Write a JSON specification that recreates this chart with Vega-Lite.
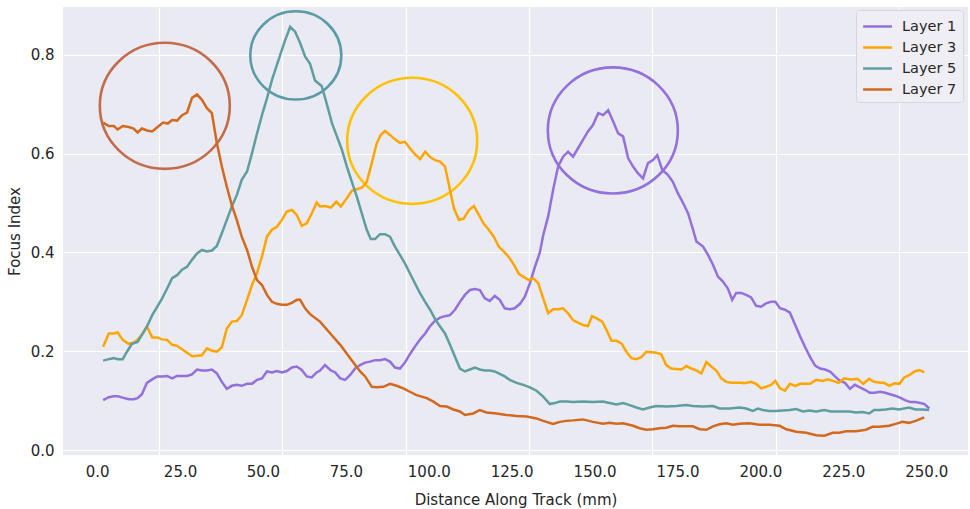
{
  "$schema": "https://vega.github.io/schema/vega-lite/v6.json",
  "width": 905,
  "height": 448,
  "autosize": {"type": "none"},
  "padding": {"left": 63, "top": 7, "right": 2, "bottom": 54},
  "background": "white",
  "config": {
    "view": {"fill": "#EAEAF2", "stroke": null},
    "font": "DejaVu Sans",
    "axis": {"domain": false, "ticks": false, "labelFont": "DejaVu Sans", "labelFontSize": 15, "labelColor": "#262626", "titleFont": "DejaVu Sans", "titleFontSize": 15, "titleFontWeight": "normal", "titleColor": "#262626", "gridColor": "#FFFFFF", "gridWidth": 1.2, "gridOpacity": 1}
  },
  "datasets": {
    "marks": [
      {"layer": "Layer 7", "x": 20.4, "y": 0.697},
      {"layer": "Layer 5", "x": 59.9, "y": 0.799},
      {"layer": "Layer 3", "x": 95.0, "y": 0.626},
      {"layer": "Layer 1", "x": 155.5, "y": 0.647}
    ],
    "series": [
      {"layer":"Layer 1","x":1.8,"y":0.101},{"layer":"Layer 1","x":3.5,"y":0.107},{"layer":"Layer 1","x":5.0,"y":0.109},{"layer":"Layer 1","x":6.2,"y":0.109},{"layer":"Layer 1","x":7.7,"y":0.106},{"layer":"Layer 1","x":9.5,"y":0.103},{"layer":"Layer 1","x":11.0,"y":0.103},{"layer":"Layer 1","x":12.2,"y":0.105},{"layer":"Layer 1","x":13.5,"y":0.113},{"layer":"Layer 1","x":15.0,"y":0.136},{"layer":"Layer 1","x":16.6,"y":0.143},{"layer":"Layer 1","x":18.1,"y":0.149},{"layer":"Layer 1","x":19.6,"y":0.149},{"layer":"Layer 1","x":21.1,"y":0.150},{"layer":"Layer 1","x":22.6,"y":0.145},{"layer":"Layer 1","x":24.1,"y":0.150},{"layer":"Layer 1","x":25.6,"y":0.150},{"layer":"Layer 1","x":27.1,"y":0.150},{"layer":"Layer 1","x":28.6,"y":0.153},{"layer":"Layer 1","x":30.1,"y":0.163},{"layer":"Layer 1","x":31.6,"y":0.161},{"layer":"Layer 1","x":33.1,"y":0.161},{"layer":"Layer 1","x":34.6,"y":0.163},{"layer":"Layer 1","x":36.1,"y":0.155},{"layer":"Layer 1","x":37.6,"y":0.138},{"layer":"Layer 1","x":39.1,"y":0.124},{"layer":"Layer 1","x":40.6,"y":0.130},{"layer":"Layer 1","x":42.1,"y":0.132},{"layer":"Layer 1","x":43.6,"y":0.130},{"layer":"Layer 1","x":45.2,"y":0.134},{"layer":"Layer 1","x":46.7,"y":0.134},{"layer":"Layer 1","x":48.2,"y":0.142},{"layer":"Layer 1","x":49.7,"y":0.145},{"layer":"Layer 1","x":51.2,"y":0.159},{"layer":"Layer 1","x":52.7,"y":0.157},{"layer":"Layer 1","x":54.2,"y":0.160},{"layer":"Layer 1","x":55.7,"y":0.157},{"layer":"Layer 1","x":57.2,"y":0.160},{"layer":"Layer 1","x":58.7,"y":0.167},{"layer":"Layer 1","x":60.2,"y":0.169},{"layer":"Layer 1","x":61.7,"y":0.162},{"layer":"Layer 1","x":63.2,"y":0.149},{"layer":"Layer 1","x":64.7,"y":0.147},{"layer":"Layer 1","x":66.2,"y":0.157},{"layer":"Layer 1","x":67.2,"y":0.161},{"layer":"Layer 1","x":68.7,"y":0.172},{"layer":"Layer 1","x":70.3,"y":0.162},{"layer":"Layer 1","x":71.8,"y":0.157},{"layer":"Layer 1","x":73.3,"y":0.145},{"layer":"Layer 1","x":74.8,"y":0.142},{"layer":"Layer 1","x":76.3,"y":0.152},{"layer":"Layer 1","x":77.8,"y":0.165},{"layer":"Layer 1","x":79.3,"y":0.172},{"layer":"Layer 1","x":80.8,"y":0.177},{"layer":"Layer 1","x":82.3,"y":0.179},{"layer":"Layer 1","x":83.8,"y":0.182},{"layer":"Layer 1","x":85.3,"y":0.182},{"layer":"Layer 1","x":86.8,"y":0.184},{"layer":"Layer 1","x":88.3,"y":0.179},{"layer":"Layer 1","x":89.8,"y":0.167},{"layer":"Layer 1","x":91.3,"y":0.165},{"layer":"Layer 1","x":92.8,"y":0.177},{"layer":"Layer 1","x":94.3,"y":0.194},{"layer":"Layer 1","x":95.8,"y":0.209},{"layer":"Layer 1","x":97.4,"y":0.224},{"layer":"Layer 1","x":98.9,"y":0.236},{"layer":"Layer 1","x":100.4,"y":0.251},{"layer":"Layer 1","x":101.9,"y":0.262},{"layer":"Layer 1","x":103.4,"y":0.268},{"layer":"Layer 1","x":104.9,"y":0.271},{"layer":"Layer 1","x":106.4,"y":0.273},{"layer":"Layer 1","x":107.9,"y":0.284},{"layer":"Layer 1","x":109.4,"y":0.300},{"layer":"Layer 1","x":110.9,"y":0.314},{"layer":"Layer 1","x":112.4,"y":0.324},{"layer":"Layer 1","x":113.9,"y":0.326},{"layer":"Layer 1","x":115.4,"y":0.324},{"layer":"Layer 1","x":116.9,"y":0.307},{"layer":"Layer 1","x":118.4,"y":0.302},{"layer":"Layer 1","x":119.9,"y":0.312},{"layer":"Layer 1","x":121.4,"y":0.304},{"layer":"Layer 1","x":122.9,"y":0.287},{"layer":"Layer 1","x":124.4,"y":0.285},{"layer":"Layer 1","x":125.9,"y":0.287},{"layer":"Layer 1","x":127.5,"y":0.296},{"layer":"Layer 1","x":129.0,"y":0.311},{"layer":"Layer 1","x":130.5,"y":0.338},{"layer":"Layer 1","x":132.0,"y":0.371},{"layer":"Layer 1","x":133.5,"y":0.400},{"layer":"Layer 1","x":134.5,"y":0.435},{"layer":"Layer 1","x":136.0,"y":0.473},{"layer":"Layer 1","x":137.5,"y":0.527},{"layer":"Layer 1","x":139.0,"y":0.574},{"layer":"Layer 1","x":140.5,"y":0.594},{"layer":"Layer 1","x":142.0,"y":0.604},{"layer":"Layer 1","x":143.5,"y":0.594},{"layer":"Layer 1","x":145.0,"y":0.611},{"layer":"Layer 1","x":146.5,"y":0.628},{"layer":"Layer 1","x":148.0,"y":0.645},{"layer":"Layer 1","x":149.5,"y":0.658},{"layer":"Layer 1","x":151.1,"y":0.682},{"layer":"Layer 1","x":152.6,"y":0.678},{"layer":"Layer 1","x":154.1,"y":0.688},{"layer":"Layer 1","x":155.6,"y":0.665},{"layer":"Layer 1","x":157.1,"y":0.641},{"layer":"Layer 1","x":158.6,"y":0.635},{"layer":"Layer 1","x":160.1,"y":0.591},{"layer":"Layer 1","x":161.6,"y":0.574},{"layer":"Layer 1","x":163.1,"y":0.560},{"layer":"Layer 1","x":164.6,"y":0.550},{"layer":"Layer 1","x":166.1,"y":0.581},{"layer":"Layer 1","x":167.6,"y":0.587},{"layer":"Layer 1","x":168.9,"y":0.597},{"layer":"Layer 1","x":170.4,"y":0.567},{"layer":"Layer 1","x":172.1,"y":0.557},{"layer":"Layer 1","x":173.6,"y":0.543},{"layer":"Layer 1","x":175.1,"y":0.520},{"layer":"Layer 1","x":176.7,"y":0.500},{"layer":"Layer 1","x":178.2,"y":0.479},{"layer":"Layer 1","x":179.7,"y":0.446},{"layer":"Layer 1","x":180.7,"y":0.422},{"layer":"Layer 1","x":182.7,"y":0.412},{"layer":"Layer 1","x":184.2,"y":0.395},{"layer":"Layer 1","x":185.7,"y":0.375},{"layer":"Layer 1","x":187.2,"y":0.351},{"layer":"Layer 1","x":188.7,"y":0.341},{"layer":"Layer 1","x":190.2,"y":0.327},{"layer":"Layer 1","x":191.5,"y":0.304},{"layer":"Layer 1","x":192.7,"y":0.318},{"layer":"Layer 1","x":194.2,"y":0.318},{"layer":"Layer 1","x":195.7,"y":0.314},{"layer":"Layer 1","x":197.2,"y":0.309},{"layer":"Layer 1","x":198.7,"y":0.292},{"layer":"Layer 1","x":200.2,"y":0.290},{"layer":"Layer 1","x":201.7,"y":0.297},{"layer":"Layer 1","x":203.2,"y":0.300},{"layer":"Layer 1","x":204.5,"y":0.300},{"layer":"Layer 1","x":205.9,"y":0.287},{"layer":"Layer 1","x":207.4,"y":0.284},{"layer":"Layer 1","x":208.9,"y":0.278},{"layer":"Layer 1","x":210.5,"y":0.253},{"layer":"Layer 1","x":212.0,"y":0.230},{"layer":"Layer 1","x":213.5,"y":0.208},{"layer":"Layer 1","x":215.0,"y":0.188},{"layer":"Layer 1","x":216.5,"y":0.171},{"layer":"Layer 1","x":218.0,"y":0.165},{"layer":"Layer 1","x":219.5,"y":0.163},{"layer":"Layer 1","x":221.0,"y":0.159},{"layer":"Layer 1","x":222.5,"y":0.149},{"layer":"Layer 1","x":224.0,"y":0.140},{"layer":"Layer 1","x":225.5,"y":0.136},{"layer":"Layer 1","x":227.0,"y":0.124},{"layer":"Layer 1","x":228.5,"y":0.132},{"layer":"Layer 1","x":230.0,"y":0.127},{"layer":"Layer 1","x":231.5,"y":0.122},{"layer":"Layer 1","x":233.0,"y":0.116},{"layer":"Layer 1","x":234.5,"y":0.116},{"layer":"Layer 1","x":236.1,"y":0.118},{"layer":"Layer 1","x":237.6,"y":0.116},{"layer":"Layer 1","x":239.1,"y":0.113},{"layer":"Layer 1","x":240.6,"y":0.110},{"layer":"Layer 1","x":242.1,"y":0.106},{"layer":"Layer 1","x":243.6,"y":0.101},{"layer":"Layer 1","x":245.2,"y":0.097},{"layer":"Layer 1","x":246.7,"y":0.097},{"layer":"Layer 1","x":248.2,"y":0.095},{"layer":"Layer 1","x":249.5,"y":0.093},{"layer":"Layer 1","x":250.9,"y":0.084},

      {"layer":"Layer 3","x":1.8,"y":0.209},{"layer":"Layer 3","x":3.5,"y":0.236},{"layer":"Layer 3","x":5.0,"y":0.236},{"layer":"Layer 3","x":6.2,"y":0.238},{"layer":"Layer 3","x":7.7,"y":0.223},{"layer":"Layer 3","x":9.5,"y":0.215},{"layer":"Layer 3","x":11.0,"y":0.217},{"layer":"Layer 3","x":12.2,"y":0.223},{"layer":"Layer 3","x":13.5,"y":0.234},{"layer":"Layer 3","x":15.0,"y":0.250},{"layer":"Layer 3","x":16.6,"y":0.228},{"layer":"Layer 3","x":18.1,"y":0.228},{"layer":"Layer 3","x":19.6,"y":0.224},{"layer":"Layer 3","x":21.1,"y":0.223},{"layer":"Layer 3","x":22.6,"y":0.213},{"layer":"Layer 3","x":24.1,"y":0.211},{"layer":"Layer 3","x":25.6,"y":0.204},{"layer":"Layer 3","x":27.1,"y":0.197},{"layer":"Layer 3","x":28.6,"y":0.190},{"layer":"Layer 3","x":30.1,"y":0.191},{"layer":"Layer 3","x":31.6,"y":0.192},{"layer":"Layer 3","x":33.1,"y":0.206},{"layer":"Layer 3","x":34.6,"y":0.201},{"layer":"Layer 3","x":36.1,"y":0.199},{"layer":"Layer 3","x":37.6,"y":0.208},{"layer":"Layer 3","x":39.1,"y":0.246},{"layer":"Layer 3","x":40.6,"y":0.260},{"layer":"Layer 3","x":42.1,"y":0.261},{"layer":"Layer 3","x":43.6,"y":0.273},{"layer":"Layer 3","x":45.2,"y":0.304},{"layer":"Layer 3","x":46.7,"y":0.334},{"layer":"Layer 3","x":48.2,"y":0.358},{"layer":"Layer 3","x":49.7,"y":0.392},{"layer":"Layer 3","x":51.2,"y":0.432},{"layer":"Layer 3","x":52.7,"y":0.446},{"layer":"Layer 3","x":54.2,"y":0.452},{"layer":"Layer 3","x":55.7,"y":0.466},{"layer":"Layer 3","x":57.2,"y":0.483},{"layer":"Layer 3","x":58.7,"y":0.486},{"layer":"Layer 3","x":60.2,"y":0.476},{"layer":"Layer 3","x":61.7,"y":0.454},{"layer":"Layer 3","x":63.2,"y":0.459},{"layer":"Layer 3","x":64.7,"y":0.479},{"layer":"Layer 3","x":66.2,"y":0.501},{"layer":"Layer 3","x":67.2,"y":0.493},{"layer":"Layer 3","x":68.7,"y":0.494},{"layer":"Layer 3","x":70.5,"y":0.491},{"layer":"Layer 3","x":72.1,"y":0.503},{"layer":"Layer 3","x":73.5,"y":0.493},{"layer":"Layer 3","x":75.3,"y":0.510},{"layer":"Layer 3","x":76.8,"y":0.525},{"layer":"Layer 3","x":78.3,"y":0.528},{"layer":"Layer 3","x":79.8,"y":0.531},{"layer":"Layer 3","x":81.3,"y":0.543},{"layer":"Layer 3","x":82.8,"y":0.581},{"layer":"Layer 3","x":84.3,"y":0.621},{"layer":"Layer 3","x":85.5,"y":0.638},{"layer":"Layer 3","x":86.8,"y":0.646},{"layer":"Layer 3","x":88.3,"y":0.638},{"layer":"Layer 3","x":89.8,"y":0.629},{"layer":"Layer 3","x":91.3,"y":0.622},{"layer":"Layer 3","x":92.8,"y":0.624},{"layer":"Layer 3","x":94.3,"y":0.611},{"layer":"Layer 3","x":95.8,"y":0.599},{"layer":"Layer 3","x":97.4,"y":0.589},{"layer":"Layer 3","x":98.9,"y":0.604},{"layer":"Layer 3","x":100.4,"y":0.593},{"layer":"Layer 3","x":101.9,"y":0.587},{"layer":"Layer 3","x":103.4,"y":0.584},{"layer":"Layer 3","x":104.9,"y":0.574},{"layer":"Layer 3","x":106.2,"y":0.533},{"layer":"Layer 3","x":107.6,"y":0.489},{"layer":"Layer 3","x":109.1,"y":0.466},{"layer":"Layer 3","x":110.6,"y":0.469},{"layer":"Layer 3","x":112.1,"y":0.486},{"layer":"Layer 3","x":113.6,"y":0.494},{"layer":"Layer 3","x":115.1,"y":0.476},{"layer":"Layer 3","x":116.6,"y":0.458},{"layer":"Layer 3","x":118.1,"y":0.446},{"layer":"Layer 3","x":119.6,"y":0.432},{"layer":"Layer 3","x":121.1,"y":0.412},{"layer":"Layer 3","x":122.6,"y":0.402},{"layer":"Layer 3","x":124.2,"y":0.390},{"layer":"Layer 3","x":125.7,"y":0.375},{"layer":"Layer 3","x":127.2,"y":0.356},{"layer":"Layer 3","x":128.7,"y":0.350},{"layer":"Layer 3","x":130.2,"y":0.344},{"layer":"Layer 3","x":131.5,"y":0.348},{"layer":"Layer 3","x":133.0,"y":0.338},{"layer":"Layer 3","x":134.5,"y":0.307},{"layer":"Layer 3","x":136.0,"y":0.277},{"layer":"Layer 3","x":137.5,"y":0.285},{"layer":"Layer 3","x":139.0,"y":0.285},{"layer":"Layer 3","x":140.5,"y":0.287},{"layer":"Layer 3","x":142.0,"y":0.277},{"layer":"Layer 3","x":143.5,"y":0.263},{"layer":"Layer 3","x":145.0,"y":0.258},{"layer":"Layer 3","x":146.5,"y":0.253},{"layer":"Layer 3","x":148.0,"y":0.251},{"layer":"Layer 3","x":149.2,"y":0.271},{"layer":"Layer 3","x":150.5,"y":0.267},{"layer":"Layer 3","x":152.3,"y":0.260},{"layer":"Layer 3","x":153.6,"y":0.243},{"layer":"Layer 3","x":155.1,"y":0.221},{"layer":"Layer 3","x":156.6,"y":0.221},{"layer":"Layer 3","x":158.1,"y":0.216},{"layer":"Layer 3","x":159.6,"y":0.199},{"layer":"Layer 3","x":161.1,"y":0.186},{"layer":"Layer 3","x":162.6,"y":0.184},{"layer":"Layer 3","x":164.1,"y":0.188},{"layer":"Layer 3","x":165.6,"y":0.199},{"layer":"Layer 3","x":167.1,"y":0.198},{"layer":"Layer 3","x":168.6,"y":0.197},{"layer":"Layer 3","x":170.1,"y":0.194},{"layer":"Layer 3","x":171.6,"y":0.172},{"layer":"Layer 3","x":173.1,"y":0.165},{"layer":"Layer 3","x":174.7,"y":0.164},{"layer":"Layer 3","x":176.2,"y":0.163},{"layer":"Layer 3","x":177.7,"y":0.170},{"layer":"Layer 3","x":179.2,"y":0.165},{"layer":"Layer 3","x":180.7,"y":0.161},{"layer":"Layer 3","x":182.2,"y":0.155},{"layer":"Layer 3","x":183.7,"y":0.178},{"layer":"Layer 3","x":185.2,"y":0.169},{"layer":"Layer 3","x":186.7,"y":0.161},{"layer":"Layer 3","x":188.2,"y":0.145},{"layer":"Layer 3","x":189.7,"y":0.138},{"layer":"Layer 3","x":191.2,"y":0.136},{"layer":"Layer 3","x":192.7,"y":0.136},{"layer":"Layer 3","x":194.2,"y":0.136},{"layer":"Layer 3","x":195.2,"y":0.135},{"layer":"Layer 3","x":197.2,"y":0.138},{"layer":"Layer 3","x":198.7,"y":0.134},{"layer":"Layer 3","x":200.2,"y":0.125},{"layer":"Layer 3","x":201.7,"y":0.128},{"layer":"Layer 3","x":203.2,"y":0.132},{"layer":"Layer 3","x":204.5,"y":0.140},{"layer":"Layer 3","x":205.9,"y":0.125},{"layer":"Layer 3","x":207.4,"y":0.120},{"layer":"Layer 3","x":208.9,"y":0.134},{"layer":"Layer 3","x":210.5,"y":0.130},{"layer":"Layer 3","x":212.0,"y":0.134},{"layer":"Layer 3","x":213.5,"y":0.134},{"layer":"Layer 3","x":215.0,"y":0.134},{"layer":"Layer 3","x":216.8,"y":0.142},{"layer":"Layer 3","x":218.8,"y":0.140},{"layer":"Layer 3","x":220.3,"y":0.143},{"layer":"Layer 3","x":221.8,"y":0.140},{"layer":"Layer 3","x":223.6,"y":0.136},{"layer":"Layer 3","x":225.3,"y":0.145},{"layer":"Layer 3","x":227.3,"y":0.143},{"layer":"Layer 3","x":229.3,"y":0.144},{"layer":"Layer 3","x":231.0,"y":0.134},{"layer":"Layer 3","x":232.8,"y":0.144},{"layer":"Layer 3","x":234.3,"y":0.138},{"layer":"Layer 3","x":236.3,"y":0.136},{"layer":"Layer 3","x":237.3,"y":0.136},{"layer":"Layer 3","x":238.9,"y":0.130},{"layer":"Layer 3","x":240.4,"y":0.135},{"layer":"Layer 3","x":241.9,"y":0.134},{"layer":"Layer 3","x":243.4,"y":0.147},{"layer":"Layer 3","x":245.0,"y":0.152},{"layer":"Layer 3","x":246.5,"y":0.159},{"layer":"Layer 3","x":248.0,"y":0.162},{"layer":"Layer 3","x":249.4,"y":0.157},

      {"layer":"Layer 5","x":1.8,"y":0.181},{"layer":"Layer 5","x":3.5,"y":0.184},{"layer":"Layer 5","x":5.0,"y":0.186},{"layer":"Layer 5","x":6.2,"y":0.184},{"layer":"Layer 5","x":7.7,"y":0.184},{"layer":"Layer 5","x":9.0,"y":0.199},{"layer":"Layer 5","x":10.5,"y":0.215},{"layer":"Layer 5","x":12.2,"y":0.219},{"layer":"Layer 5","x":13.5,"y":0.233},{"layer":"Layer 5","x":15.0,"y":0.250},{"layer":"Layer 5","x":16.6,"y":0.273},{"layer":"Layer 5","x":18.1,"y":0.290},{"layer":"Layer 5","x":19.6,"y":0.307},{"layer":"Layer 5","x":21.1,"y":0.327},{"layer":"Layer 5","x":22.6,"y":0.348},{"layer":"Layer 5","x":24.1,"y":0.354},{"layer":"Layer 5","x":25.6,"y":0.365},{"layer":"Layer 5","x":27.1,"y":0.371},{"layer":"Layer 5","x":28.6,"y":0.385},{"layer":"Layer 5","x":30.1,"y":0.398},{"layer":"Layer 5","x":31.6,"y":0.405},{"layer":"Layer 5","x":33.1,"y":0.402},{"layer":"Layer 5","x":34.6,"y":0.404},{"layer":"Layer 5","x":36.1,"y":0.413},{"layer":"Layer 5","x":37.6,"y":0.439},{"layer":"Layer 5","x":39.1,"y":0.466},{"layer":"Layer 5","x":40.6,"y":0.493},{"layer":"Layer 5","x":42.1,"y":0.516},{"layer":"Layer 5","x":43.6,"y":0.547},{"layer":"Layer 5","x":45.2,"y":0.564},{"layer":"Layer 5","x":46.7,"y":0.601},{"layer":"Layer 5","x":48.2,"y":0.641},{"layer":"Layer 5","x":49.7,"y":0.678},{"layer":"Layer 5","x":51.2,"y":0.712},{"layer":"Layer 5","x":52.7,"y":0.749},{"layer":"Layer 5","x":54.2,"y":0.780},{"layer":"Layer 5","x":55.2,"y":0.800},{"layer":"Layer 5","x":56.7,"y":0.830},{"layer":"Layer 5","x":58.2,"y":0.857},{"layer":"Layer 5","x":59.7,"y":0.847},{"layer":"Layer 5","x":61.2,"y":0.824},{"layer":"Layer 5","x":62.7,"y":0.797},{"layer":"Layer 5","x":64.2,"y":0.782},{"layer":"Layer 5","x":65.7,"y":0.748},{"layer":"Layer 5","x":67.7,"y":0.737},{"layer":"Layer 5","x":69.2,"y":0.702},{"layer":"Layer 5","x":70.8,"y":0.662},{"layer":"Layer 5","x":72.3,"y":0.635},{"layer":"Layer 5","x":73.8,"y":0.608},{"layer":"Layer 5","x":75.3,"y":0.574},{"layer":"Layer 5","x":76.8,"y":0.543},{"layer":"Layer 5","x":78.3,"y":0.513},{"layer":"Layer 5","x":79.8,"y":0.479},{"layer":"Layer 5","x":81.3,"y":0.446},{"layer":"Layer 5","x":82.5,"y":0.427},{"layer":"Layer 5","x":83.8,"y":0.427},{"layer":"Layer 5","x":85.3,"y":0.437},{"layer":"Layer 5","x":86.8,"y":0.437},{"layer":"Layer 5","x":88.3,"y":0.432},{"layer":"Layer 5","x":89.8,"y":0.412},{"layer":"Layer 5","x":91.3,"y":0.395},{"layer":"Layer 5","x":92.8,"y":0.378},{"layer":"Layer 5","x":94.3,"y":0.358},{"layer":"Layer 5","x":95.8,"y":0.338},{"layer":"Layer 5","x":97.4,"y":0.317},{"layer":"Layer 5","x":98.9,"y":0.300},{"layer":"Layer 5","x":100.4,"y":0.284},{"layer":"Layer 5","x":101.9,"y":0.265},{"layer":"Layer 5","x":103.4,"y":0.250},{"layer":"Layer 5","x":104.9,"y":0.236},{"layer":"Layer 5","x":106.4,"y":0.213},{"layer":"Layer 5","x":107.9,"y":0.189},{"layer":"Layer 5","x":109.4,"y":0.165},{"layer":"Layer 5","x":110.9,"y":0.159},{"layer":"Layer 5","x":112.4,"y":0.163},{"layer":"Layer 5","x":113.9,"y":0.167},{"layer":"Layer 5","x":115.4,"y":0.163},{"layer":"Layer 5","x":116.9,"y":0.161},{"layer":"Layer 5","x":118.4,"y":0.161},{"layer":"Layer 5","x":119.9,"y":0.159},{"layer":"Layer 5","x":121.4,"y":0.154},{"layer":"Layer 5","x":122.9,"y":0.149},{"layer":"Layer 5","x":124.4,"y":0.142},{"layer":"Layer 5","x":126.5,"y":0.136},{"layer":"Layer 5","x":128.5,"y":0.132},{"layer":"Layer 5","x":130.5,"y":0.127},{"layer":"Layer 5","x":132.5,"y":0.120},{"layer":"Layer 5","x":134.5,"y":0.108},{"layer":"Layer 5","x":136.5,"y":0.093},{"layer":"Layer 5","x":138.0,"y":0.095},{"layer":"Layer 5","x":139.5,"y":0.098},{"layer":"Layer 5","x":141.5,"y":0.098},{"layer":"Layer 5","x":143.5,"y":0.097},{"layer":"Layer 5","x":146.5,"y":0.098},{"layer":"Layer 5","x":149.5,"y":0.097},{"layer":"Layer 5","x":152.5,"y":0.098},{"layer":"Layer 5","x":154.5,"y":0.095},{"layer":"Layer 5","x":156.6,"y":0.092},{"layer":"Layer 5","x":158.6,"y":0.095},{"layer":"Layer 5","x":160.6,"y":0.091},{"layer":"Layer 5","x":162.6,"y":0.086},{"layer":"Layer 5","x":164.6,"y":0.082},{"layer":"Layer 5","x":166.6,"y":0.086},{"layer":"Layer 5","x":168.6,"y":0.089},{"layer":"Layer 5","x":171.6,"y":0.088},{"layer":"Layer 5","x":174.7,"y":0.089},{"layer":"Layer 5","x":177.6,"y":0.091},{"layer":"Layer 5","x":179.6,"y":0.089},{"layer":"Layer 5","x":182.7,"y":0.088},{"layer":"Layer 5","x":185.7,"y":0.089},{"layer":"Layer 5","x":187.7,"y":0.084},{"layer":"Layer 5","x":190.7,"y":0.084},{"layer":"Layer 5","x":193.7,"y":0.086},{"layer":"Layer 5","x":195.7,"y":0.084},{"layer":"Layer 5","x":197.7,"y":0.079},{"layer":"Layer 5","x":199.2,"y":0.084},{"layer":"Layer 5","x":200.7,"y":0.081},{"layer":"Layer 5","x":202.7,"y":0.079},{"layer":"Layer 5","x":204.7,"y":0.079},{"layer":"Layer 5","x":206.7,"y":0.080},{"layer":"Layer 5","x":208.8,"y":0.081},{"layer":"Layer 5","x":210.8,"y":0.083},{"layer":"Layer 5","x":212.8,"y":0.078},{"layer":"Layer 5","x":214.8,"y":0.080},{"layer":"Layer 5","x":216.8,"y":0.078},{"layer":"Layer 5","x":219.3,"y":0.081},{"layer":"Layer 5","x":221.3,"y":0.078},{"layer":"Layer 5","x":223.8,"y":0.078},{"layer":"Layer 5","x":226.8,"y":0.078},{"layer":"Layer 5","x":228.8,"y":0.076},{"layer":"Layer 5","x":230.8,"y":0.077},{"layer":"Layer 5","x":232.8,"y":0.074},{"layer":"Layer 5","x":234.3,"y":0.081},{"layer":"Layer 5","x":235.8,"y":0.081},{"layer":"Layer 5","x":237.8,"y":0.082},{"layer":"Layer 5","x":239.8,"y":0.084},{"layer":"Layer 5","x":241.8,"y":0.082},{"layer":"Layer 5","x":244.8,"y":0.086},{"layer":"Layer 5","x":246.8,"y":0.082},{"layer":"Layer 5","x":248.8,"y":0.082},{"layer":"Layer 5","x":250.9,"y":0.081},

      {"layer":"Layer 7","x":1.8,"y":0.663},{"layer":"Layer 7","x":3.5,"y":0.656},{"layer":"Layer 7","x":5.0,"y":0.656},{"layer":"Layer 7","x":6.2,"y":0.649},{"layer":"Layer 7","x":7.7,"y":0.656},{"layer":"Layer 7","x":9.5,"y":0.654},{"layer":"Layer 7","x":11.0,"y":0.651},{"layer":"Layer 7","x":12.2,"y":0.643},{"layer":"Layer 7","x":13.5,"y":0.651},{"layer":"Layer 7","x":15.0,"y":0.647},{"layer":"Layer 7","x":16.6,"y":0.645},{"layer":"Layer 7","x":18.6,"y":0.656},{"layer":"Layer 7","x":19.9,"y":0.663},{"layer":"Layer 7","x":21.3,"y":0.661},{"layer":"Layer 7","x":22.6,"y":0.668},{"layer":"Layer 7","x":24.1,"y":0.667},{"layer":"Layer 7","x":25.6,"y":0.678},{"layer":"Layer 7","x":27.1,"y":0.683},{"layer":"Layer 7","x":28.6,"y":0.713},{"layer":"Layer 7","x":30.1,"y":0.720},{"layer":"Layer 7","x":31.6,"y":0.709},{"layer":"Layer 7","x":33.1,"y":0.692},{"layer":"Layer 7","x":34.6,"y":0.682},{"layer":"Layer 7","x":36.1,"y":0.621},{"layer":"Layer 7","x":37.6,"y":0.574},{"layer":"Layer 7","x":39.1,"y":0.533},{"layer":"Layer 7","x":40.6,"y":0.496},{"layer":"Layer 7","x":42.1,"y":0.466},{"layer":"Layer 7","x":43.6,"y":0.432},{"layer":"Layer 7","x":45.2,"y":0.405},{"layer":"Layer 7","x":46.7,"y":0.371},{"layer":"Layer 7","x":48.2,"y":0.344},{"layer":"Layer 7","x":49.7,"y":0.334},{"layer":"Layer 7","x":51.2,"y":0.314},{"layer":"Layer 7","x":52.7,"y":0.300},{"layer":"Layer 7","x":54.2,"y":0.296},{"layer":"Layer 7","x":55.7,"y":0.294},{"layer":"Layer 7","x":57.2,"y":0.294},{"layer":"Layer 7","x":58.7,"y":0.298},{"layer":"Layer 7","x":60.2,"y":0.304},{"layer":"Layer 7","x":61.2,"y":0.304},{"layer":"Layer 7","x":62.7,"y":0.287},{"layer":"Layer 7","x":64.2,"y":0.275},{"layer":"Layer 7","x":67.2,"y":0.260},{"layer":"Layer 7","x":70.3,"y":0.236},{"layer":"Layer 7","x":73.3,"y":0.213},{"layer":"Layer 7","x":76.3,"y":0.186},{"layer":"Layer 7","x":79.3,"y":0.159},{"layer":"Layer 7","x":80.8,"y":0.149},{"layer":"Layer 7","x":82.8,"y":0.128},{"layer":"Layer 7","x":84.3,"y":0.127},{"layer":"Layer 7","x":86.3,"y":0.128},{"layer":"Layer 7","x":88.3,"y":0.134},{"layer":"Layer 7","x":90.3,"y":0.130},{"layer":"Layer 7","x":92.3,"y":0.125},{"layer":"Layer 7","x":94.3,"y":0.118},{"layer":"Layer 7","x":96.3,"y":0.111},{"layer":"Layer 7","x":99.4,"y":0.105},{"layer":"Layer 7","x":101.4,"y":0.098},{"layer":"Layer 7","x":103.4,"y":0.089},{"layer":"Layer 7","x":105.4,"y":0.088},{"layer":"Layer 7","x":107.4,"y":0.082},{"layer":"Layer 7","x":109.4,"y":0.078},{"layer":"Layer 7","x":110.9,"y":0.071},{"layer":"Layer 7","x":113.4,"y":0.074},{"layer":"Layer 7","x":115.4,"y":0.081},{"layer":"Layer 7","x":117.4,"y":0.076},{"layer":"Layer 7","x":120.4,"y":0.074},{"layer":"Layer 7","x":123.4,"y":0.071},{"layer":"Layer 7","x":126.5,"y":0.069},{"layer":"Layer 7","x":129.5,"y":0.068},{"layer":"Layer 7","x":132.5,"y":0.064},{"layer":"Layer 7","x":134.5,"y":0.059},{"layer":"Layer 7","x":137.5,"y":0.053},{"layer":"Layer 7","x":139.5,"y":0.057},{"layer":"Layer 7","x":141.5,"y":0.059},{"layer":"Layer 7","x":143.5,"y":0.060},{"layer":"Layer 7","x":146.5,"y":0.062},{"layer":"Layer 7","x":149.5,"y":0.057},{"layer":"Layer 7","x":152.5,"y":0.053},{"layer":"Layer 7","x":154.5,"y":0.055},{"layer":"Layer 7","x":156.6,"y":0.053},{"layer":"Layer 7","x":158.6,"y":0.054},{"layer":"Layer 7","x":161.6,"y":0.049},{"layer":"Layer 7","x":163.6,"y":0.044},{"layer":"Layer 7","x":165.6,"y":0.041},{"layer":"Layer 7","x":167.6,"y":0.042},{"layer":"Layer 7","x":169.6,"y":0.044},{"layer":"Layer 7","x":171.6,"y":0.045},{"layer":"Layer 7","x":173.6,"y":0.049},{"layer":"Layer 7","x":175.6,"y":0.048},{"layer":"Layer 7","x":177.6,"y":0.048},{"layer":"Layer 7","x":179.6,"y":0.048},{"layer":"Layer 7","x":181.7,"y":0.042},{"layer":"Layer 7","x":183.7,"y":0.041},{"layer":"Layer 7","x":185.7,"y":0.048},{"layer":"Layer 7","x":187.7,"y":0.052},{"layer":"Layer 7","x":189.7,"y":0.054},{"layer":"Layer 7","x":191.7,"y":0.051},{"layer":"Layer 7","x":193.7,"y":0.053},{"layer":"Layer 7","x":196.7,"y":0.054},{"layer":"Layer 7","x":199.7,"y":0.051},{"layer":"Layer 7","x":202.7,"y":0.051},{"layer":"Layer 7","x":205.8,"y":0.049},{"layer":"Layer 7","x":207.8,"y":0.042},{"layer":"Layer 7","x":210.8,"y":0.037},{"layer":"Layer 7","x":213.8,"y":0.035},{"layer":"Layer 7","x":216.8,"y":0.030},{"layer":"Layer 7","x":219.3,"y":0.029},{"layer":"Layer 7","x":221.8,"y":0.035},{"layer":"Layer 7","x":223.8,"y":0.035},{"layer":"Layer 7","x":225.8,"y":0.038},{"layer":"Layer 7","x":228.8,"y":0.038},{"layer":"Layer 7","x":231.8,"y":0.041},{"layer":"Layer 7","x":233.8,"y":0.047},{"layer":"Layer 7","x":235.8,"y":0.047},{"layer":"Layer 7","x":238.8,"y":0.049},{"layer":"Layer 7","x":240.8,"y":0.053},{"layer":"Layer 7","x":242.8,"y":0.057},{"layer":"Layer 7","x":244.8,"y":0.055},{"layer":"Layer 7","x":246.8,"y":0.059},{"layer":"Layer 7","x":249.4,"y":0.066}
    ]
  },
  "layer": [
    {
      "data": {"name": "marks"},
      "mark": {"type": "point", "shape": "M-1,0A1,0.97,0,1,1,1,0A1,0.97,0,1,1,-1,0Z", "filled": false, "strokeWidth": 2.6, "opacity": 1},
      "encoding": {
        "x": {"field": "x", "type": "quantitative", "scale": {"domain": [-10.3, 262.6], "nice": false, "zero": false},
              "axis": {"values": [18.55, 55.77, 92.99, 130.21, 167.43, 204.65, 241.87], "labels": false, "grid": true, "title": null, "orient": "bottom"}},
        "y": {"field": "y", "type": "quantitative", "scale": {"domain": [-0.0101, 0.897], "nice": false, "zero": false}, "axis": null},
        "stroke": {"condition": [
          {"test": "datum.layer === 'Layer 1'", "value": "#9370DB"},
          {"test": "datum.layer === 'Layer 3'", "value": "#FFC107"},
          {"test": "datum.layer === 'Layer 5'", "value": "#5B9BA8"}
        ], "value": "#C46B4C"},
        "size": {"condition": {"test": "datum.layer === 'Layer 5'", "value": 8281}, "value": 16900}
      }
    },
    {
      "data": {"name": "series"},
      "mark": {"type": "line", "strokeWidth": 2.5},
      "encoding": {
        "x": {"field": "x", "type": "quantitative", "scale": {"domain": [-10.3, 262.6], "nice": false, "zero": false},
              "axis": {"values": [0, 25, 50, 75, 100, 125, 150, 175, 200, 225, 250], "format": ".1f", "grid": false, "title": "Distance Along Track (mm)", "labelPadding": 9, "titlePadding": 13, "orient": "bottom"}},
        "y": {"field": "y", "type": "quantitative", "scale": {"domain": [-0.0101, 0.897], "nice": false, "zero": false},
              "axis": {"values": [0, 0.2, 0.4, 0.6, 0.8], "format": ".1f", "grid": true, "title": "Focus Index", "labelPadding": 9, "titlePadding": 8}},
        "color": {"field": "layer", "type": "nominal",
                  "scale": {"domain": ["Layer 1", "Layer 3", "Layer 5", "Layer 7"], "range": ["#9370DB", "#FFA500", "#5F9EA0", "#D2691E"]},
                  "legend": {"orient": "none", "legendX": 793, "legendY": 3, "title": null, "symbolType": "M-1.6,0L1.6,0", "symbolSize": 324, "symbolStrokeWidth": 2.5, "symbolOffset": 5, "labelFontSize": 14.5, "labelFont": "DejaVu Sans", "labelColor": "#262626", "fillColor": "#EEEEF4", "strokeColor": "#D6D6DE", "cornerRadius": 3, "padding": 6, "rowPadding": 4, "labelOffset": 14}}
      }
    }
  ],
  "resolve": {"axis": {"x": "independent", "y": "independent"}}
}
